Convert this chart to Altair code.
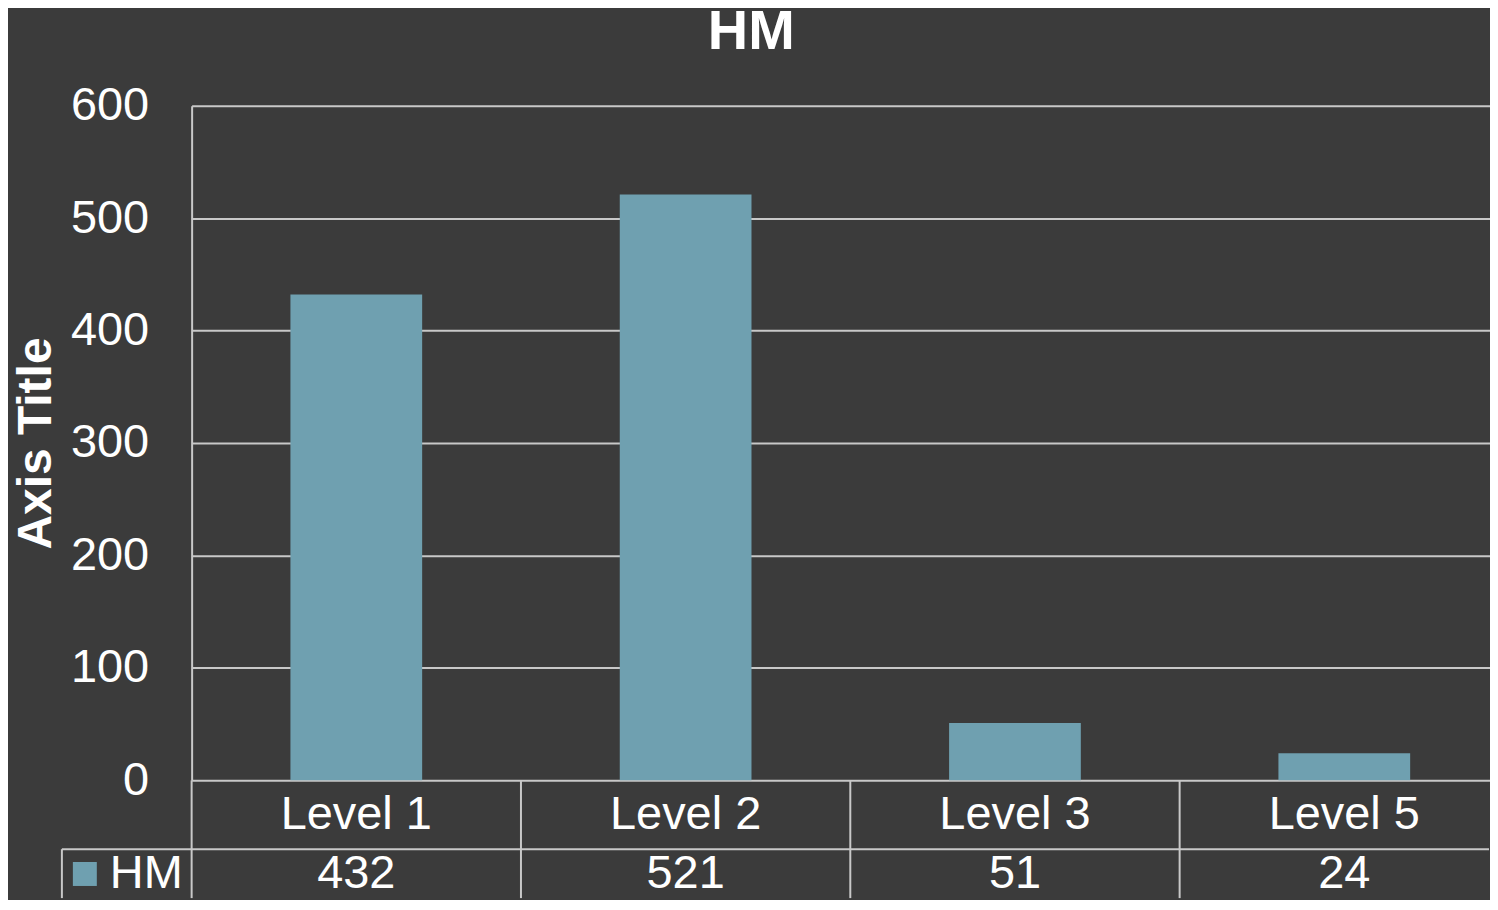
import altair as alt
import pandas as pd

levels = ["Level 1", "Level 2", "Level 3", "Level 5"]
values = [432, 521, 51, 24]
series_name = "HM"
y_ticks = [0, 100, 200, 300, 400, 500, 600]
row_order = ["name", "value"]

BG = "#3b3b3b"
GRID = "#c8c8c8"
BAR = "#6fa0b0"
FONT = "Liberation Sans"

bars_df = pd.DataFrame({"level": levels, "value": values, "series": [series_name] * len(levels)})
table_df = pd.DataFrame({
    "level": levels + levels,
    "row": ["name"] * len(levels) + ["value"] * len(levels),
    "text": levels + [str(v) for v in values],
})
legend_df = pd.DataFrame({"series": [series_name], "row": ["value"], "label": [series_name]})
level_df = pd.DataFrame({"level": levels})

color_scale = alt.Scale(domain=[series_name], range=[BAR])
level_scale_top = alt.Scale(domain=levels, range=[0, 1320], paddingInner=0.6, paddingOuter=0.3)
level_scale_tab = alt.Scale(domain=levels, range=[0, 1320], paddingInner=0, paddingOuter=0)
series_scale = alt.Scale(domain=[series_name], range=[-130, 0], paddingInner=0, paddingOuter=0)
row_scale = alt.Scale(domain=row_order, range=[0, 138], paddingInner=0, paddingOuter=0)

top = alt.Chart(bars_df).mark_bar().encode(
    x=alt.X("level:N", sort=levels, scale=level_scale_top, axis=None),
    y=alt.Y("value:Q", scale=alt.Scale(domain=[0, 600], nice=False),
            axis=alt.Axis(values=y_ticks, title="Axis Title", titleFontSize=48, titleFontWeight="bold",
                          titleColor="white", titlePadding=10, labelFontSize=47, labelColor="white",
                          labelPadding=43, ticks=False, grid=True, gridColor=GRID, gridWidth=2,
                          domain=True, domainColor=GRID, domainWidth=2)),
    color=alt.Color("series:N", scale=color_scale, legend=None),
).properties(width=1300, height=676)

TXT = dict(fontSize=47, color="white", baseline="middle")
VALUE_BAND = 0.36

col_lines = alt.Chart(level_df).mark_rule(color=GRID, strokeWidth=2).encode(
    x=alt.X("level:N", sort=levels, bandPosition=0, scale=level_scale_tab, axis=None),
)
names = alt.Chart(table_df).transform_filter(alt.datum.row == "name").mark_text(clip=True, **TXT).encode(
    x=alt.X("level:N", sort=levels, scale=level_scale_tab, axis=None),
    y=alt.Y("row:N", sort=row_order, scale=row_scale, axis=None),
    text="text:N",
)
vals = alt.Chart(table_df).transform_filter(alt.datum.row == "value").mark_text(clip=True, **TXT).encode(
    x=alt.X("level:N", sort=levels, scale=level_scale_tab, axis=None),
    y=alt.Y("row:N", sort=row_order, bandPosition=VALUE_BAND, scale=row_scale, axis=None),
    text="text:N",
)
row_line = alt.Chart(legend_df).mark_rule(color=GRID, strokeWidth=2).encode(
    x=alt.X("series:N", bandPosition=0, scale=series_scale, axis=None),
    x2=alt.value("width"),
    y=alt.Y("row:N", sort=row_order, bandPosition=0, scale=row_scale, axis=None),
)
key_line = alt.Chart(legend_df).mark_rule(color=GRID, strokeWidth=2).encode(
    x=alt.X("series:N", bandPosition=0, scale=series_scale, axis=None),
    y=alt.Y("row:N", sort=row_order, bandPosition=0, scale=row_scale, axis=None),
    y2=alt.value("height"),
)
key_square = alt.Chart(legend_df).mark_square(size=576, opacity=1, xOffset=-42).encode(
    x=alt.X("series:N", scale=series_scale, axis=None),
    y=alt.Y("row:N", sort=row_order, bandPosition=VALUE_BAND, scale=row_scale, axis=None),
    color=alt.Color("series:N", scale=color_scale, legend=None),
)
key_text = alt.Chart(legend_df).mark_text(align="left", dx=-17, **TXT).encode(
    x=alt.X("series:N", scale=series_scale, axis=None),
    y=alt.Y("row:N", sort=row_order, bandPosition=VALUE_BAND, scale=row_scale, axis=None),
    text="label:N",
)

table = alt.layer(col_lines, names, vals, row_line, key_line, key_square, key_text).resolve_scale(
    x="independent"
).properties(width=1300, height=118)

chart = alt.vconcat(top, table, spacing=0, bounds="flush").resolve_scale(
    x="independent", y="independent"
).properties(
    title=alt.Title("HM", fontSize=56, fontWeight="bold", color="white", anchor="middle", offset=21),
    padding={"left": 4, "top": -5, "right": 0, "bottom": 0},
).configure(
    background=BG, font=FONT,
).configure_view(stroke=None)

chart.save("out.html", embed_options={"renderer": "svg", "actions": False})
